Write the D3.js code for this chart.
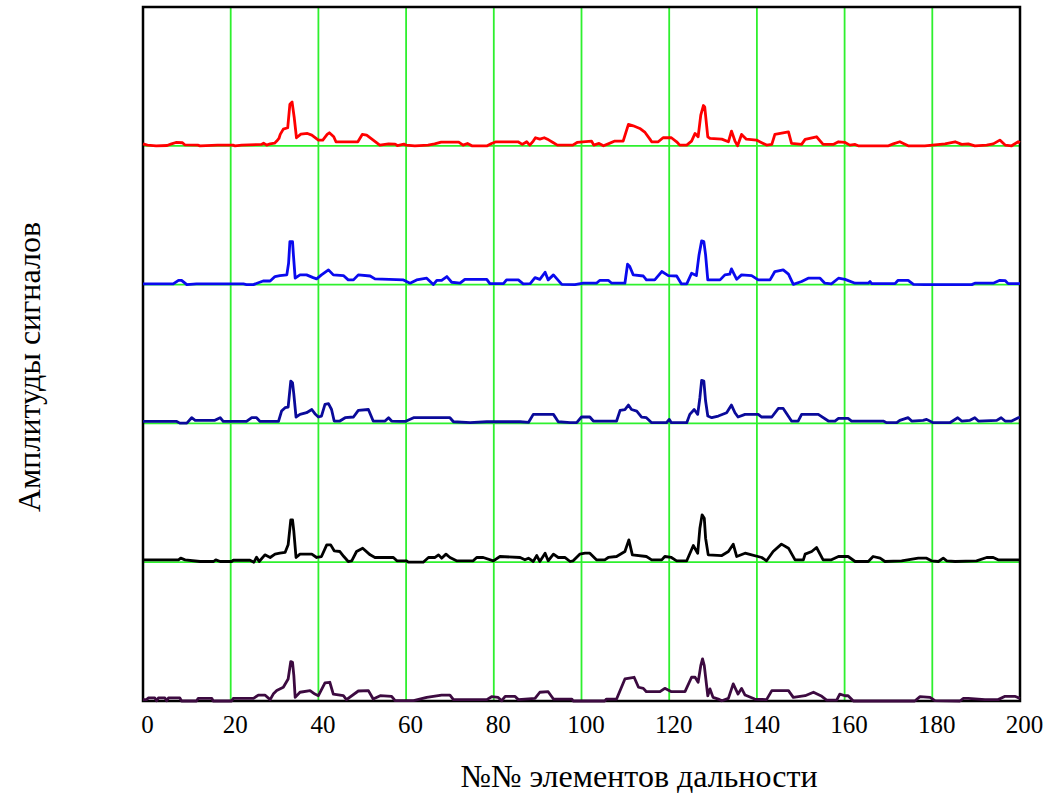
<!DOCTYPE html>
<html>
<head>
<meta charset="utf-8">
<script src="https://cdn.jsdelivr.net/npm/d3@7"></script>
<style>
  body { margin: 0; background: #fff; }
  svg { display: block; }
</style>
</head>
<body>
<div id="chart"></div>
<script>
// traces: [range element, amplitude], each drawn on its own offset level
const redTrace = [[0,0.014],[1,0.005],[3,0],[5.5,0.002],[6.5,0.014],[7.5,0.024],[9,0.022],[9.5,0.007],[12.5,0.005],[13,0],[17,0.005],[20.5,0.005],[21,0],[22.5,0.005],[27,0.01],[27.5,0.019],[28.2,0.005],[29,0.014],[30,0.019],[30.5,0.034],[31,0.053],[31.3,0.082],[32,0.12],[33,0.13],[33.5,0.3],[34,0.315],[34.5,0.2],[35,0.058],[36,0.084],[37.5,0.089],[38.5,0.077],[40,0.041],[41,0.041],[42,0.082],[42.5,0.094],[43.5,0.065],[44,0.029],[49,0.029],[50,0.082],[51,0.077],[52.5,0.041],[54,0.005],[56,0.014],[57.5,0.012],[58,0.002],[59.5,0.012],[60,0.005],[62,0],[65,0.005],[66.5,0.014],[68,0.026],[72,0.026],[73,0.005],[74,0.017],[75,0],[78.5,0],[79.5,0.017],[80.5,0.029],[85.5,0.029],[86.5,0.01],[87.5,0.029],[88.2,0.005],[89,0.034],[89.5,0.058],[90.5,0.048],[91.5,0.058],[92.5,0.043],[93.5,0.024],[94.5,0.005],[98,0.005],[99,0.024],[102.3,0.034],[102.8,0.005],[104,0.017],[105,0],[106.1,0.014],[107.6,0.034],[109.5,0.034],[110.7,0.154],[111.8,0.144],[113.3,0.125],[114.5,0.096],[115.6,0.048],[116,0.029],[117.5,0.029],[118.6,0.058],[120.5,0.058],[121.7,0.029],[122.4,0.005],[124,0.005],[125.1,0.034],[125.9,0.089],[126.6,0.065],[127.2,0.221],[127.8,0.29],[128.1,0.28],[128.8,0.065],[129.3,0.053],[132,0.048],[133.5,0.029],[134.2,0.106],[135,0.034],[135.6,0],[136.5,0.082],[137.6,0.048],[139.9,0.041],[141.1,0.022],[142.2,0.005],[143.4,0.01],[144.1,0.082],[147.2,0.1],[147.9,0.017],[150.2,0.01],[151,0.046],[153.6,0.065],[155.1,0.01],[157.4,0.01],[158.6,0.029],[160.1,0.024],[161.2,0.005],[162.4,0.01],[163.1,0],[170,0],[171.1,0.014],[172.6,0.029],[173.4,0.017],[174.5,0],[178.3,0],[182.9,0.014],[185.2,0.029],[186.7,0.01],[188.2,0.014],[189.7,0],[192.4,0.005],[193.9,0.014],[195.4,0.041],[196.6,0.005],[198.1,0],[199.6,0.029],[200,0.024]];

const blueTrace = [[0,0.005],[6.9,0.005],[8.1,0.031],[8.8,0.031],[10,0],[12.2,0.005],[22.9,0.005],[23.6,0],[25.2,0],[26,0.01],[27.4,0.026],[29,0.026],[30.1,0.058],[31.2,0.065],[32.8,0.07],[33.2,0.154],[33.5,0.31],[34.1,0.31],[34.3,0.214],[34.7,0.046],[35.8,0.07],[37.3,0.07],[38.8,0.05],[39.6,0.041],[40.7,0.07],[42.3,0.106],[43.4,0.07],[45.7,0.065],[46.8,0.034],[48,0.034],[49.1,0.07],[51.8,0.062],[52.9,0.041],[59.4,0.034],[60.9,0.01],[62.4,0.034],[64.7,0.046],[66.2,0],[67,0.031],[68.1,0.031],[69.3,0.058],[70.4,0.017],[72.3,0.01],[73.4,0.038],[78.4,0.038],[79.1,0.007],[82.2,0.007],[82.9,0.034],[85.6,0.034],[86.7,0.005],[88.3,0.007],[89.4,0.05],[90.5,0.038],[91.7,0.089],[92.4,0.034],[93.6,0.07],[95.5,0.002],[98.5,0],[100.4,0.01],[103.4,0.01],[104.2,0.031],[106.1,0.031],[106.9,0.01],[109.9,0.01],[110.5,0.147],[111,0.13],[111.8,0.07],[114.1,0.062],[114.8,0.034],[116.7,0.034],[118.3,0.094],[119.8,0.065],[121.7,0.062],[122.8,0.005],[124,0.005],[125.1,0.082],[126.2,0.065],[126.8,0.214],[127.4,0.315],[127.9,0.31],[128.3,0.214],[128.8,0.034],[131.6,0.034],[132.7,0.07],[133.8,0.075],[134.2,0.113],[135.4,0.038],[136.5,0.07],[138.8,0.065],[140.3,0.034],[143,0.034],[144.1,0.094],[146,0.106],[147.2,0.075],[148.3,0.002],[150.2,0.022],[151.7,0.046],[154.4,0.046],[155.5,0.01],[157,0.005],[158.6,0.046],[160.1,0.038],[162.4,0.01],[165.4,0.01],[165.8,0.022],[166.2,0.007],[171.5,0.007],[172.2,0.031],[174.5,0.031],[175.7,0.002],[178.3,0],[189,0],[189.7,0.01],[193.9,0.01],[195.4,0.031],[196.6,0.029],[197.3,0.007],[200,0.007]];

const navyTrace = [[0,0.014],[7.7,0.014],[8.4,0.002],[10,0.002],[11.1,0.041],[11.9,0.022],[16.4,0.022],[17.6,0.041],[18.3,0.014],[23.6,0.014],[24.8,0.041],[25.9,0.041],[26.7,0.014],[30.9,0.014],[31.6,0.089],[32.4,0.113],[33.1,0.118],[33.7,0.305],[34.1,0.293],[34.4,0.209],[34.9,0.046],[35.8,0.065],[37.3,0.077],[38.5,0.1],[39.2,0.07],[40,0.046],[40.7,0.053],[41.5,0.137],[42.3,0.142],[43,0.1],[43.6,0.017],[44.9,0.017],[46.1,0.041],[48,0.046],[49.1,0.094],[51.4,0.1],[52.5,0.017],[55.2,0.017],[56,0.041],[56.7,0.017],[58.6,0.014],[59.8,0.014],[61.7,0.041],[70,0.041],[70.8,0.012],[74.6,0.005],[78.4,0.012],[86,0.012],[87.9,0.007],[89,0.065],[93.6,0.065],[94.7,0.012],[97.4,0.005],[98.9,0.005],[100,0.046],[101.9,0.046],[102.7,0.017],[108,0.017],[108.8,0.094],[109.9,0.1],[110.7,0.132],[111.4,0.1],[112.6,0.089],[113.7,0.046],[114.8,0.041],[116,0.005],[119.4,0.005],[120,0.029],[120.5,0.005],[124,0.005],[124.7,0.065],[125.7,0.1],[126.5,0.065],[127,0.185],[127.4,0.31],[127.9,0.305],[128.3,0.161],[128.8,0.053],[129.7,0.041],[131.2,0.053],[133.1,0.077],[134.2,0.132],[135,0.077],[135.7,0.046],[137.3,0.065],[140.3,0.065],[141.1,0.046],[143.4,0.046],[144.9,0.108],[146,0.108],[147.9,0.017],[149.4,0.017],[150.2,0.065],[154,0.065],[156.3,0.017],[157.8,0.017],[158.6,0.036],[160.8,0.036],[161.6,0.017],[168.8,0.017],[169.6,0.005],[171.9,0.005],[172.6,0.022],[174.5,0.041],[175.3,0.017],[177.9,0.022],[178.7,0.029],[180.2,0.005],[184,0.005],[185.8,0.041],[186.7,0.017],[188.6,0.022],[189.7,0.041],[190.5,0.017],[194.7,0.022],[195.7,0.041],[196.6,0.017],[198.1,0.017],[199.6,0.041],[200,0.041]];

const blackTrace = [[0,0.017],[8.1,0.017],[8.6,0.029],[9.6,0.017],[13,0.005],[16.1,0.005],[16.6,0.017],[17.6,0.005],[20.2,0.005],[20.6,0.014],[24.4,0.014],[25.3,0],[25.9,0.036],[26.5,0.005],[27.8,0.053],[29,0.034],[30.1,0.058],[31.2,0.065],[32.4,0.07],[33.1,0.125],[33.7,0.305],[34.1,0.305],[34.4,0.221],[34.9,0.034],[35.8,0.058],[38.5,0.058],[39.6,0.034],[40.7,0.041],[41.9,0.125],[42.8,0.125],[43.6,0.082],[44.9,0.077],[45.8,0.041],[46.8,0.005],[47.6,0.01],[48.7,0.077],[50.1,0.101],[51.8,0.053],[52.9,0.034],[57.1,0.034],[57.9,0.01],[60.1,0.01],[60.5,0],[63.9,0],[65.1,0.034],[66.6,0.034],[67.4,0.053],[68.1,0.029],[69.1,0.058],[70,0.034],[71.5,0.01],[75.3,0.01],[76.1,0.034],[77.6,0.034],[79.9,0.01],[81.4,0.041],[86,0.034],[87.1,0.017],[87.9,0.029],[89,0.005],[89.8,0.048],[90.5,0.005],[91.7,0.065],[92.4,0.01],[93.6,0.058],[94.7,0.034],[96.2,0.034],[97.4,0.005],[98.1,0.01],[99.6,0.058],[100.8,0.065],[101.9,0.065],[103.4,0.017],[105.3,0.017],[106.1,0.034],[108,0.041],[109.9,0.077],[110.8,0.161],[111.6,0.053],[114.8,0.041],[116,0.017],[118.3,0.017],[119,0.041],[120.5,0.034],[121.7,0.01],[124,0.01],[125.5,0.12],[126.5,0.065],[127,0.245],[127.5,0.341],[128,0.317],[128.3,0.173],[128.9,0.053],[132,0.048],[133.5,0.077],[134.6,0.13],[135.4,0.041],[137.3,0.065],[138.8,0.053],[141.1,0.034],[142.2,0.01],[143.7,0.077],[145.6,0.13],[147.2,0.101],[148.7,0.017],[150.6,0.017],[151,0.058],[152.5,0.077],[153.6,0.106],[155.1,0.017],[157,0.017],[158.6,0.041],[160.8,0.041],[162.4,0.005],[165.4,0.005],[166.5,0.041],[168.1,0.029],[169.2,0.005],[173,0.01],[176.8,0.029],[178.7,0.029],[179.8,0.01],[181.4,0.005],[182.5,0.029],[183.3,0.01],[185.2,0.005],[190.1,0.01],[192.4,0.034],[193.9,0.034],[195,0.017],[200,0.017]];

const purpleTrace = [[0,0.01],[0.8,0.01],[1.2,0.022],[2.7,0.022],[3.1,0.002],[3.5,0.022],[5,0.022],[5.4,0.002],[5.8,0.022],[8.4,0.022],[8.8,0],[12.2,0],[12.6,0.019],[15.7,0.019],[16,0],[20.2,0],[20.6,0.019],[25.2,0.019],[26.3,0.043],[27.8,0.043],[29,0.01],[29.7,0.05],[30.5,0.075],[32,0.099],[33.1,0.159],[33.7,0.284],[34.1,0.279],[34.4,0.183],[34.7,0.026],[35.8,0.063],[38.1,0.075],[39.2,0.05],[40,0.038],[41.5,0.13],[42.6,0.135],[43.4,0.05],[45.7,0.038],[46.4,0.01],[49.1,0.072],[51.4,0.075],[52.5,0.014],[54.1,0.038],[56.7,0.034],[57.5,0.002],[61.7,0.002],[64.7,0.026],[68.1,0.043],[70,0.043],[70.8,0.01],[78.4,0.01],[79.5,0.031],[81,0.026],[81.8,0.002],[82.6,0.034],[84.8,0.034],[85.6,0.01],[89.4,0.019],[90.5,0.063],[92.4,0.067],[93.6,0.014],[97.8,0.014],[98.1,0],[105.3,0],[105.7,0.014],[108,0.014],[109.9,0.159],[112,0.171],[113,0.099],[114.1,0.091],[114.8,0.067],[117.9,0.067],[119,0.091],[120.5,0.067],[123.6,0.067],[125.1,0.171],[125.9,0.171],[126.6,0.135],[127.2,0.255],[127.6,0.303],[128,0.255],[128.8,0.038],[129.3,0.087],[130,0.026],[131.2,0.014],[132,0.002],[133.5,0.019],[134.6,0.123],[135.7,0.05],[136.5,0.091],[137.3,0.043],[139.5,0.014],[142.2,0.01],[143.4,0.075],[147.2,0.075],[148.3,0.026],[151,0.038],[152.9,0.063],[154.8,0.034],[155.9,0.007],[158.2,0.007],[158.9,0.05],[160.1,0.038],[160.8,0.038],[162,0],[176,0],[177.2,0.031],[179.5,0.026],[180.6,0.002],[186.3,0],[187.1,0.019],[188.2,0.019],[192,0.01],[195,0.01],[196.6,0.034],[198.8,0.034],[200,0.019]];

const traces = [redTrace, blueTrace, navyTrace, blackTrace, purpleTrace];
const traceOffsets = [4, 3, 2, 1, 0];
const traceColors = ['#ff0000', '#0a0aee', '#0a0a9a', '#000000', '#3c0a40'];
const xTicks = [0, 20, 40, 60, 80, 100, 120, 140, 160, 180, 200];
const levelLines = [1, 2, 3, 4];

const W = 1049, H = 796;
const margin = {t:7, r:29, b:95, l:143};

const svg = d3.select('#chart').append('svg')
	.attr('width', W)
	.attr('height', H);

const x = d3.scaleLinear().domain([0, 200]).range([margin.l, W - margin.r]);
const y = d3.scaleLinear().domain([0, 5]).range([H - margin.b, margin.t]);

const grid = '#2ef02e';

//vertical grid
svg.append('g')
	.selectAll('line')
	.data(xTicks.slice(1, -1))
	.enter()
	.append('line')
	.attr('x1', d => x(d)).attr('x2', d => x(d))
	.attr('y1', y(5)).attr('y2', y(0))
	.style('stroke', grid)
	.style('stroke-width', 1.8);

//level lines
svg.append('g')
	.selectAll('line')
	.data(levelLines)
	.enter()
	.append('line')
	.attr('x1', x(0)).attr('x2', x(200))
	.attr('y1', d => y(d)).attr('y2', d => y(d))
	.style('stroke', grid)
	.style('stroke-width', 1.8);

//frame
svg.append('rect')
	.attr('x', x(0)).attr('y', y(5))
	.attr('width', x(200) - x(0))
	.attr('height', y(0) - y(5))
	.style('fill', 'none')
	.style('stroke', '#000')
	.style('stroke-width', 2.5);

//traces
const line = d3.line()
	.x(d => x(d[0]))
	.y(d => y(d[1]));

svg.append('g')
	.selectAll('path')
	.data(traces)
	.enter()
	.append('path')
	.attr('d', (d, i) => line(d.map(p => [p[0], p[1] + traceOffsets[i]])))
	.style('fill', 'none')
	.style('stroke', (d, i) => traceColors[i])
	.style('stroke-width', 2.8)
	.style('stroke-linejoin', 'round');

//x axis labels
const xAxis = d3.axisBottom(x)
	.tickValues(xTicks)
	.tickSize(0)
	.tickPadding(14);

const axisG = svg.append('g')
	.attr('transform', `translate(0, ${y(0)})`)
	.call(xAxis);
axisG.select('.domain').remove();
axisG.selectAll('text')
	.attr('dx', 4)
	.style('font-family', '"Liberation Serif", "Times New Roman", serif')
	.style('font-size', '25px')
	.style('fill', '#000');

//titles
svg.append('text')
	.attr('x', 639)
	.attr('y', 787)
	.attr('text-anchor', 'middle')
	.style('font-family', '"Liberation Serif", "Times New Roman", serif')
	.style('font-size', '32px')
	.text('№№ элементов дальности');

svg.append('text')
	.attr('transform', 'translate(40, 367) rotate(-90)')
	.attr('text-anchor', 'middle')
	.style('font-family', '"Liberation Serif", "Times New Roman", serif')
	.style('font-size', '32px')
	.text('Амплитуды сигналов');
</script>
</body>
</html>
